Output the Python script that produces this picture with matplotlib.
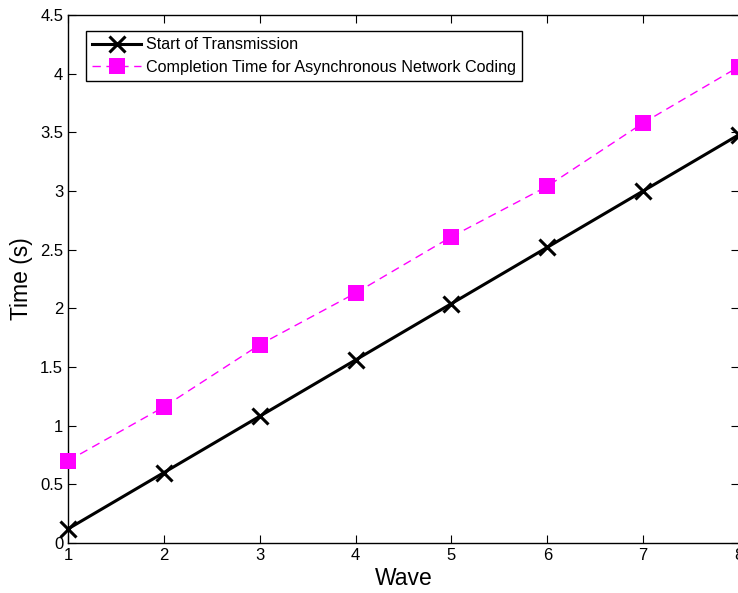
import matplotlib

matplotlib.use("Agg")
import matplotlib.pyplot as plt

plt.rcParams["font.family"] = ["Liberation Sans", "DejaVu Sans"]

waves = [1, 2, 3, 4, 5, 6, 7, 8]
start_tx = [0.12, 0.60, 1.08, 1.56, 2.04, 2.52, 3.00, 3.48]
completion = [0.70, 1.16, 1.69, 2.13, 2.61, 3.04, 3.58, 4.06]
y_ticks = [0, 0.5, 1, 1.5, 2, 2.5, 3, 3.5, 4, 4.5]
y_labels = ["0", "0.5", "1", "1.5", "2", "2.5", "3", "3.5", "4", "4.5"]

fig = plt.figure(figsize=(7.38, 5.93), dpi=100)
ax = fig.add_axes([68 / 738, 50 / 593, 671 / 738, 528 / 593])

ax.plot(waves, start_tx, color="black", linewidth=2.2, marker="x",
        markersize=11, markeredgewidth=2.2, label="Start of Transmission",
        clip_on=False, zorder=3)
ax.plot(waves, completion, color="#ff00ff", linewidth=1.0, linestyle=(0, (6, 4)),
        marker="s", markersize=12.2, markeredgewidth=0,
        label="Completion Time for Asynchronous Network Coding",
        clip_on=False, zorder=3)

ax.set_xlim(1, 8)
ax.set_ylim(0, 4.5)
ax.set_xticks(waves)
ax.set_yticks(y_ticks)
ax.set_yticklabels(y_labels)
ax.tick_params(direction="in", length=6, width=0.8, labelsize=12,
               top=True, right=True, pad=3.5)
for spine in ax.spines.values():
    spine.set_linewidth(1.0)

ax.set_xlabel("Wave", fontsize=16.5, labelpad=3)
ax.set_ylabel("Time (s)", fontsize=16.5, labelpad=5)

leg = ax.legend(loc="upper left", bbox_to_anchor=(18 / 671, 1 - 16 / 528),
                fontsize=11.6, fancybox=False, edgecolor="black", framealpha=1,
                handlelength=3.0, borderpad=0.4, labelspacing=0.45,
                handletextpad=0.3, borderaxespad=0)
leg.get_frame().set_linewidth(1.0)

fig.savefig("out.png", dpi=100)
